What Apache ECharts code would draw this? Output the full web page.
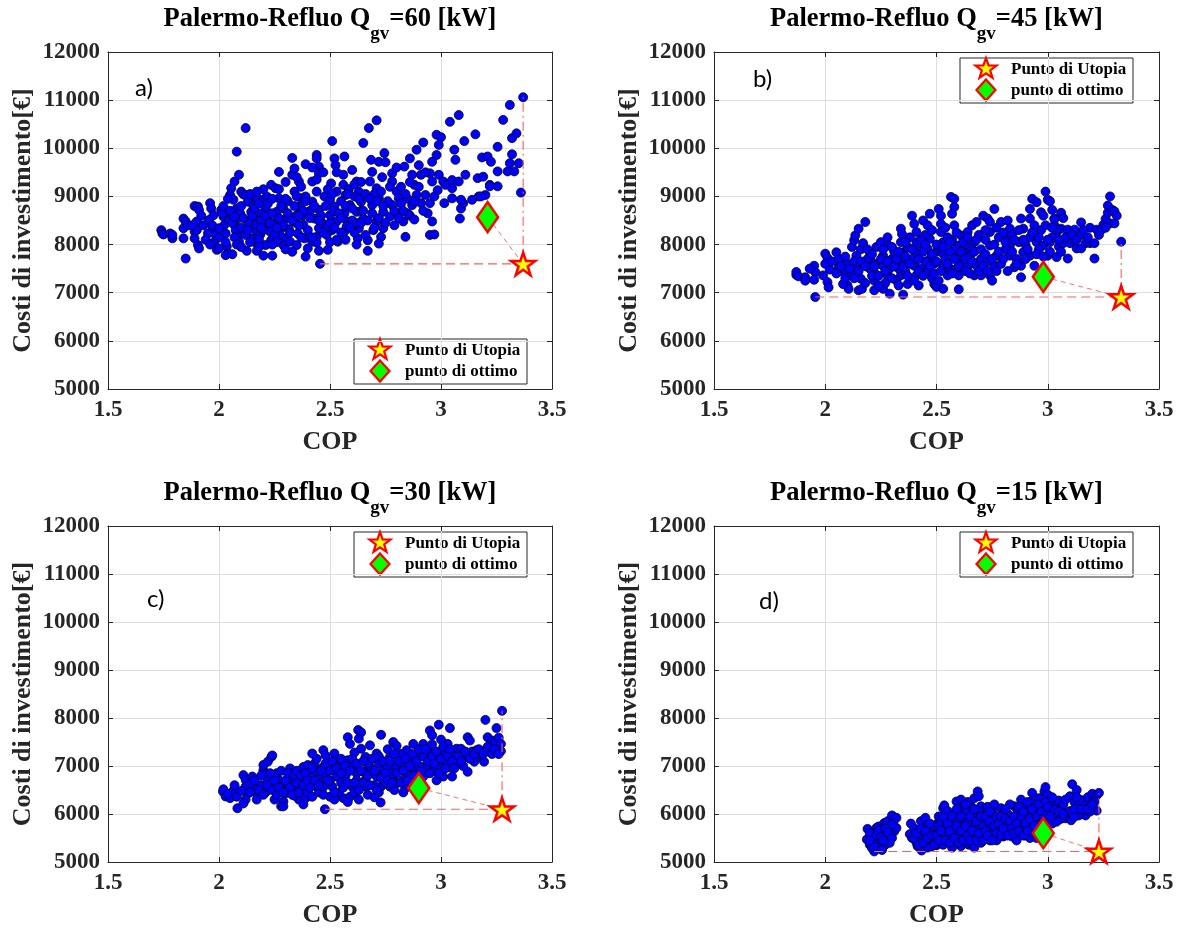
<!DOCTYPE html>
<html><head><meta charset="utf-8">
<script src="https://cdn.jsdelivr.net/npm/echarts@6.0.0/dist/echarts.min.js"></script>
<style>html,body{margin:0;padding:0;background:#fff}#c{width:1178px;height:929px}</style>
</head><body><div id="c"></div>
<script>
// ---------------- DATA ----------------
const qValues = [60, 45, 30, 15];
const panelTags = ['a)', 'b)', 'c)', 'd)'];
const xTicks = [1.5, 2, 2.5, 3, 3.5];
const yTicks = [5000, 6000, 7000, 8000, 9000, 10000, 11000, 12000];
const legendNames = ['Punto di Utopia', 'punto di ottimo'];

// COP, Costi di investimento [€]
const ptsA = [
[1.74,8300],[1.745,8230],[1.75,8210],[1.78,8230],[1.79,8130],[1.79,8200],
[1.84,8540],[1.84,8340],[1.84,8130],[1.85,7710],[1.85,8480],[1.86,8400],
[1.89,8800],[1.905,8790],[1.91,8720],[1.9,8480],[1.89,8270],[1.89,8130],[1.905,7990],[1.91,7920],[1.9,8300],[1.92,8600],
[1.96,8860],[1.965,8750],[1.975,8610],[1.955,8510],[1.965,8270],[1.95,8230],[1.98,8060],[1.99,7890],[1.97,8400],[1.985,8200],
[2.01,8720],[2.02,8580],[2.025,8410],[2.03,8230],[2.035,7960],[2.04,7820],[2.0,8340],[2.0,7920],[2.03,7780],[2.015,8650],[2.045,8500],
[2.055,9170],[2.07,9310],[2.08,9930],[2.09,9450],[2.12,10420],[2.1,9100],[2.11,9040],[2.05,9030],
[2.065,8930],[2.08,8750],[2.085,8540],[2.07,8410],[2.09,8200],[2.09,8060],[2.06,8620],[2.075,8300],[2.095,8650],
[2.12,9030],[2.13,8890],[2.145,8680],[2.16,8540],[2.14,8370],[2.17,8270],[2.15,8130],[2.17,8020],[2.125,7870],[2.17,7870],[2.2,7770],[2.24,7770],[2.13,8480],[2.155,8800],[2.165,8960],
[2.175,8960],[2.2,8930],[2.21,8750],[2.22,8580],[2.205,8410],[2.23,8270],[2.235,8090],[2.21,7990],[2.19,8640],[2.185,8200],[2.215,9000],
[2.235,9240],[2.27,9510],[2.255,9170],[2.27,8960],[2.29,8750],[2.3,8540],[2.28,8340],[2.3,8130],[2.29,7990],[2.32,8060],[2.25,8450],[2.26,8680],[2.275,8200],[2.31,8900],[2.315,8320],
[2.33,9450],[2.34,9580],[2.36,9310],[2.39,9670],[2.34,9100],[2.37,8960],[2.36,8790],[2.35,8610],[2.38,8410],[2.355,8230],[2.385,8130],[2.35,7990],[2.39,7750],[2.33,9800],[2.345,8460],[2.375,8600],[2.39,9000],[2.37,9200],
[2.44,9860],[2.44,9790],[2.45,9620],[2.45,9480],[2.42,9310],[2.44,9100],[2.42,8890],[2.45,8720],[2.43,8540],[2.45,8340],[2.44,8160],[2.42,8060],[2.45,7870],[2.49,7890],[2.455,7600],[2.44,8040],[2.41,8700],[2.465,8450],[2.475,9000],
[2.51,10150],[2.52,9790],[2.525,9650],[2.53,9500],[2.505,9270],[2.53,9100],[2.5,8930],[2.52,8790],[2.5,8610],[2.53,8480],[2.51,8300],[2.535,8060],[2.53,8100],[2.485,8200],[2.49,8380],[2.515,8700],
[2.565,9830],[2.56,9240],[2.57,9030],[2.59,8820],[2.565,8650],[2.58,8480],[2.565,8270],[2.55,8900],[2.575,8380],[2.585,9150],
[2.6,9550],[2.62,9310],[2.63,9100],[2.64,8890],[2.62,8680],[2.65,8540],[2.63,8340],[2.625,8130],[2.61,9000],[2.6,8500],[2.61,8250],[2.64,8700],
[2.65,10110],[2.675,10420],[2.71,10580],[2.67,8090],[2.67,7870],
[2.685,9760],[2.69,9510],[2.72,9720],[2.745,9900],[2.75,9710],[2.68,9310],[2.71,9170],[2.72,8960],[2.69,8820],[2.74,8680],[2.71,8480],[2.74,8340],[2.73,8160],[2.695,8300],[2.7,9050],[2.735,9400],
[2.78,9480],[2.78,9310],[2.8,9100],[2.81,8960],[2.78,8820],[2.805,8650],[2.83,8480],[2.84,8160],[2.77,8580],[2.79,8400],[2.8,9600],[2.82,9200],
[2.835,9620],[2.86,9790],[2.89,9970],[2.92,10120],[2.87,9450],[2.88,9240],[2.9,9650],[2.91,9450],[2.89,9030],[2.91,8860],[2.87,8820],[2.93,9030],[2.95,8860],[2.94,8650],[2.96,8480],[2.95,8200],[2.97,8210],[2.86,8600],[2.88,8520],[2.85,8950],
[2.95,9480],[2.96,9720],[2.98,9860],[2.96,9310],[2.99,9450],[2.985,9130],[3.01,9310],[3.02,9240],[3.015,8860],[3.05,9340],[3.06,9970],[3.065,9760],[3.05,8960],[3.05,9170],[3.08,9310],[3.09,8750],[3.085,8540],[3.1,8860],
[2.98,10280],[3.0,10230],[2.99,10070],[3.04,10550],[3.08,10690],[3.105,10150],[3.155,10290],[3.11,9450],[3.14,8930],[3.165,9380],[3.19,9410],[3.185,9810],[3.21,9830],[3.225,9720],[3.22,9240],[3.17,9000],[3.2,9030],[3.09,8930],[3.18,9000],[3.255,9210],[3.22,9210],
[3.28,10590],[3.255,10030],[3.255,9520],[3.3,9520],[3.31,9690],[3.32,9875],[3.32,10210],[3.34,10310],[3.31,10900],[3.35,9690],[3.33,9520],[3.37,11060],[3.36,9080],
[2.02,8800],[2.04,8950],[2.05,8700],[2.06,8450],[2.07,8150],[2.08,8000],[2.1,8350],[2.11,8550],[2.1,8800],[2.12,8200],[2.14,8050],[2.15,8600],[2.16,8750],[2.14,9050],[2.17,8420],[2.18,8850],[2.19,8500],[2.18,8100],[2.2,8300],[2.21,8600],
[2.22,8850],[2.23,8450],[2.24,8650],[2.25,8200],[2.24,8950],[2.26,8050],[2.27,8550],[2.28,8800],[2.29,8400],[2.3,8950],[2.31,8650],[2.32,8250],[2.33,8500],[2.34,8800],[2.35,9000],[2.36,8400],[2.37,8150],[2.38,8700],[2.39,8900],[2.4,8300],
[2.41,8550],[2.42,8150],[2.43,8800],[2.44,9350],[2.46,8600],[2.47,8250],[2.48,8800],[2.49,9150],[2.5,8450],[2.51,9050],[2.52,8350],[2.54,8650],[2.55,8250],[2.56,9450],[2.57,8800],[2.58,9050],[2.59,8350],[2.6,8750],[2.61,9250],[2.62,8450],
[2.63,8950],[2.64,9300],[2.65,8700],[2.66,8200],[2.66,9050],[2.67,8500],[2.68,8950],[2.69,8650],[2.7,8350],[2.71,8900],[2.72,8550],[2.73,9100],[2.75,8450],[2.76,8900],[2.77,9200],[2.79,8700],[2.81,8550],[2.82,8850],[2.84,9050],[2.85,8650],
[2.86,9300],[2.88,8900],[2.9,9200],[2.92,8700],[2.93,9500],[2.97,9000],[2.42,9600],[2.47,9500],[2.35,9400],[2.3,9300],[2.27,9150],[2.2,9150],[2.17,9100],[2.24,8000],[2.18,7950],[2.3,7900],[2.4,7920],[2.33,7850],[2.5,8050],[2.57,8100],
[2.62,8000],[2.72,8020],[2.1,7950],[2.06,7800],[1.94,8100],[1.93,8400],[1.88,8400],[1.96,8000],[2.0,8150],[2.03,8050],[2.07,8580],[2.13,8300],[2.19,8350],[2.26,8350],[2.36,8600],[2.45,8500],[2.55,8550],[2.64,8450],[2.74,8800],[2.83,8700]
];
const ptsB = [
[1.87,7370],[1.87,7430],[1.88,7340],[1.91,7320],[1.91,7250],[1.955,6910],[1.95,7560],[1.955,7430],[1.95,7270],[1.93,7500],
[2.0,7810],[2.01,7720],[2.0,7600],[1.99,7360],[2.01,7220],[2.015,7110],[2.02,7480],[2.03,7650],
[2.05,7840],[2.07,7650],[2.08,7430],[2.1,7150],[2.105,7080],[2.08,7180],[2.06,7520],[2.09,7300],[2.06,7700],[2.1,7600],
[2.12,7950],[2.13,8090],[2.135,8190],[2.15,8330],[2.18,8470],[2.14,7770],[2.14,7560],[2.16,7290],[2.15,7050],[2.165,7080],[2.12,7400],[2.16,7900],[2.17,8030],[2.13,7650],
[2.2,7840],[2.21,7640],[2.22,7430],[2.22,7250],[2.22,7050],[2.19,7700],[2.2,7500],[2.23,7950],[2.24,7600],[2.21,7350],
[2.25,8050],[2.28,8150],[2.285,7980],[2.26,7770],[2.26,7560],[2.28,7360],[2.26,7080],[2.29,6980],[2.27,7200],[2.3,7700],[2.29,7500],[2.31,7850],
[2.34,8330],[2.345,8220],[2.34,8050],[2.35,7840],[2.34,7640],[2.34,7360],[2.37,7180],[2.35,6960],[2.33,7500],[2.36,7450],[2.37,7950],[2.32,7250],
[2.39,8600],[2.4,8430],[2.41,8260],[2.41,8050],[2.41,7840],[2.4,7560],[2.41,7360],[2.42,7150],[2.39,7700],[2.43,7950],[2.43,7500],[2.38,8150],
[2.44,8500],[2.46,8400],[2.47,8640],[2.47,8120],[2.46,7910],[2.47,7700],[2.46,7430],[2.49,7180],[2.5,7120],[2.53,7080],[2.45,8200],[2.48,7300],[2.49,7600],[2.5,7850],[2.45,7650],
[2.51,8740],[2.52,8600],[2.52,8430],[2.52,8260],[2.53,8050],[2.53,7810],[2.53,7560],[2.55,7360],[2.51,7960],[2.54,7700],[2.55,8150],[2.56,7500],
[2.565,8990],[2.58,8950],[2.58,8780],[2.57,8640],[2.58,8400],[2.61,8190],[2.6,7980],[2.59,7740],[2.59,7500],[2.6,7360],[2.6,7070],[2.57,8100],[2.58,7900],[2.61,7600],[2.62,7850],
[2.64,8260],[2.66,8400],[2.68,8470],[2.67,8050],[2.65,7770],[2.68,7560],[2.67,7360],[2.7,7360],[2.63,8000],[2.66,7900],[2.69,8200],[2.64,7550],[2.7,7700],
[2.71,8600],[2.73,8540],[2.74,8470],[2.76,8740],[2.74,8260],[2.74,7980],[2.77,7770],[2.76,7560],[2.74,7360],[2.79,7600],[2.72,8100],[2.73,7650],[2.78,8150],[2.75,7250],
[2.79,8470],[2.82,8500],[2.83,8330],[2.82,8120],[2.83,7980],[2.83,7770],[2.85,7530],[2.88,7320],[2.88,7560],[2.8,8250],[2.81,7900],[2.86,7700],[2.87,8050],[2.84,8200],
[2.88,8540],[2.89,8330],[2.92,8740],[2.93,8950],[2.95,8880],[2.99,9100],[2.92,8540],[2.97,8670],[2.98,8600],
[2.92,8150],[2.95,8050],[2.89,7840],[2.92,7770],[2.94,7560],[3.0,7770],[2.98,7980],[3.01,8050],[3.03,8540],[3.03,8400],[3.04,8260],[3.06,8330],[2.9,8000],[2.96,7900],[2.97,8300],[2.94,8400],[3.02,8150],
[3.0,8930],[3.01,8900],[3.02,8720],[3.03,8530],[3.04,8310],
[3.04,7740],[3.05,7960],[3.07,8030],[3.06,8660],[3.07,8550],[3.09,8310],[3.09,7710],[3.1,8030],[3.12,8100],[3.13,7920],[3.12,8310],[3.15,8200],[3.15,8460],[3.15,7920],[3.17,8030],[3.19,8030],[3.21,8030],[3.21,7710],
[3.19,8350],[3.22,8310],[3.25,8410],[3.26,8530],[3.27,8660],[3.27,8810],[3.28,8440],[3.3,8440],[3.28,9000],[3.29,8720],[3.3,8690],[3.31,8600],[3.33,8060],
[2.05,7400],[2.07,7550],[2.09,7750],[2.11,7500],[2.13,7300],[2.15,7450],[2.16,7650],[2.18,7550],[2.18,7200],[2.19,7900],[2.21,7800],[2.22,7550],[2.24,7350],[2.24,7150],[2.25,7700],[2.26,7900],[2.27,7450],[2.28,7650],[2.3,7300],[2.3,7950],
[2.31,7550],[2.32,7700],[2.33,7850],[2.33,7150],[2.35,7550],[2.36,7750],[2.36,8050],[2.37,7350],[2.38,7600],[2.39,7900],[2.4,7250],[2.42,7450],[2.42,7700],[2.43,8100],[2.44,7350],[2.44,7850],[2.45,8000],[2.47,7550],[2.48,7800],[2.48,8300],
[2.49,7400],[2.5,7650],[2.5,8000],[2.51,7250],[2.52,7450],[2.53,7950],[2.54,8350],[2.55,7600],[2.56,7850],[2.56,8050],[2.57,7400],[2.58,7700],[2.59,8250],[2.6,7550],[2.61,7850],[2.62,8050],[2.63,7450],[2.63,7700],[2.64,8150],[2.65,7400],
[2.66,7650],[2.67,7850],[2.68,8100],[2.69,7450],[2.7,7900],[2.71,7550],[2.72,7800],[2.72,8300],[2.73,7450],[2.75,7700],[2.76,8000],[2.77,7450],[2.77,8350],[2.78,7850],[2.8,7700],[2.81,8050],[2.82,7450],[2.84,7850],[2.85,8100],[2.86,7600],
[2.87,8300],[2.89,8100],[2.9,7700],[2.91,7900],[2.93,8250],[2.95,7800],[2.96,8150],[2.98,7750],[2.99,8400],[3.0,8100],[3.01,7850],[3.02,8350],[3.05,8100],[3.06,7850],[3.08,8150],[3.11,8200],[3.13,8100],[3.16,8300],[3.18,8150],[3.23,8200],
[3.24,8300],[3.26,8350]
];
const ptsC = [
[2.018,6467],[2.02,6515],[2.03,6365],[2.05,6330],[2.066,6490],[2.08,6360],[2.083,6120],[2.07,6600],[2.04,6420],
[2.11,6810],[2.12,6710],[2.12,6570],[2.13,6430],[2.12,6300],[2.1,6480],[2.11,6220],
[2.15,6780],[2.16,6570],[2.17,6430],[2.17,6300],[2.14,6640],
[2.2,6910],[2.2,7020],[2.22,7090],[2.236,7190],[2.24,7220],[2.21,6840],[2.22,6710],[2.23,6570],[2.19,6600],[2.21,6450],
[2.25,6300],[2.28,6160],[2.29,6260],[2.27,6710],[2.29,6570],[2.3,6430],[2.32,6950],[2.33,6850],[2.33,6710],[2.35,6500],[2.36,6300],[2.26,6850],[2.31,6620],[2.34,6380],[2.29,6160],
[2.36,6880],[2.38,6980],[2.4,7020],[2.41,6780],[2.39,6570],[2.39,6330],[2.37,6650],[2.4,6450],[2.38,6200],
[2.42,7260],[2.47,7330],[2.48,7220],[2.47,6980],[2.45,6780],[2.44,6570],[2.42,6360],[2.477,6100],[2.43,7050],[2.46,6650],[2.44,6900],[2.45,6450],[2.48,6850],[2.47,6560],
[2.52,7260],[2.53,7120],[2.54,6980],[2.53,6780],[2.51,6570],[2.5,6360],[2.52,6300],[2.56,6330],[2.51,6920],[2.55,6650],[2.54,6450],[2.5,6700],
[2.58,7600],[2.59,7460],[2.627,7750],[2.64,7700],[2.63,7570],[2.64,7360],[2.61,7280],
[2.58,7120],[2.6,6980],[2.62,6850],[2.6,6570],[2.59,6360],[2.62,6700],[2.57,6800],[2.61,6450],[2.63,6300],[2.58,6250],
[2.68,7430],[2.66,7190],[2.68,6980],[2.66,6710],[2.66,6570],[2.67,6400],[2.69,6850],[2.65,6880],[2.67,7050],
[2.73,7650],[2.71,7260],[2.72,7050],[2.71,6780],[2.73,6570],[2.728,6240],[2.7,6600],[2.74,6900],[2.72,6450],[2.7,6350],
[2.785,7500],[2.8,7420],[2.77,7190],[2.8,6980],[2.785,6780],[2.77,6570],[2.79,6500],[2.76,7000],[2.78,6850],[2.75,6650],[2.8,6650],[2.76,7350],
[2.845,7330],[2.86,7120],[2.845,6910],[2.83,6710],[2.84,6540],[2.82,7050],[2.83,6450],[2.86,6800],[2.82,7250],
[2.875,7460],[2.92,7460],[2.95,7740],[2.96,7640],[2.99,7860],[3.04,7790],[2.94,7330],[2.98,7120],[2.95,6980],[2.92,6780],[2.9,7200],[2.88,6950],[2.93,7000],[2.97,6900],[2.9,7000],[2.96,7450],[2.98,6700],
[3.01,7330],[3.03,7460],[3.01,7120],[3.04,6980],[3.05,6780],[3.01,6780],[3.0,7550],[3.02,7250],[3.0,6950],[3.03,7050],
[3.07,7360],[3.09,7360],[3.12,7600],[3.13,7530],[3.12,7190],[3.08,7050],[3.12,6880],[3.1,7000],[3.06,7200],[3.14,7300],[3.1,7250],
[3.16,7330],[3.17,7190],[3.15,7090],[3.194,7090],[3.18,7250],
[3.2,7960],[3.21,7600],[3.23,7530],[3.245,7500],[3.22,7290],[3.2,7330],[3.25,7790],[3.26,7590],[3.27,7460],[3.27,7310],[3.23,7250],[3.275,8150],
[2.14,6450],[2.16,6700],[2.18,6500],[2.19,6800],[2.2,6400],[2.22,6600],[2.23,6850],[2.24,6500],[2.25,6700],[2.26,6400],[2.27,6550],[2.28,6900],[2.29,6450],[2.3,6700],[2.31,6850],[2.32,6550],[2.33,6400],[2.34,6800],[2.35,6650],[2.35,6900],
[2.36,6450],[2.37,6800],[2.38,6600],[2.39,6850],[2.4,6700],[2.41,6550],[2.42,6950],[2.43,6700],[2.44,7150],[2.45,6600],[2.46,6900],[2.47,6400],[2.48,7050],[2.49,6700],[2.5,6900],[2.51,7100],[2.52,6450],[2.53,6950],[2.55,6850],[2.55,7150],
[2.56,6550],[2.57,7000],[2.58,6650],[2.59,6900],[2.6,7150],[2.61,6650],[2.62,7050],[2.63,6500],[2.64,6900],[2.65,6650],[2.65,7100],[2.67,6800],[2.68,6600],[2.69,7150],[2.7,6900],[2.71,6500],[2.72,7200],[2.73,6750],[2.74,7100],[2.75,6850],
[2.76,6700],[2.77,7100],[2.78,6650],[2.79,7250],[2.8,6850],[2.81,7100],[2.82,6650],[2.83,6900],[2.84,7150],[2.85,6700],[2.86,7000],[2.87,7250],[2.88,6800],[2.89,7100],[2.9,7350],[2.91,6900],[2.92,7200],[2.93,7350],[2.94,7100],[2.95,6850],
[2.96,7200],[2.97,7050],[2.98,7300],[2.99,6850],[3.0,7150],[3.01,7400],[3.02,6950],[3.03,7200],[3.04,7350],[3.05,7100],[3.06,6950],[3.08,7200],[3.09,7100],[3.11,7300],[3.13,7150],[3.15,7250],[3.17,7350],[3.19,7250],[3.21,7400],[3.24,7350],
[3.26,7250]
];
const ptsD = [
[2.19,5690],[2.187,5470],[2.2,5360],[2.205,5535],[2.22,5220],[2.21,5290],[2.23,5710],[2.24,5740],[2.25,5640],[2.235,5500],[2.25,5430],[2.26,5330],[2.27,5360],[2.24,5380],[2.265,5810],[2.28,5850],[2.29,5710],[2.295,5570],[2.31,5640],[2.32,5710],[2.31,5880],[2.3,5970],[2.28,5500],[2.29,5400],[2.32,5920],[2.27,5550],[2.215,5600],[2.255,5250],[2.3,5780],[2.26,5700],
[2.385,5800],[2.38,5580],[2.39,5500],[2.41,5400],[2.415,5330],[2.433,5240],[2.42,5640],[2.43,5850],[2.45,5920],[2.46,5780],[2.445,5530],[2.47,5430],[2.48,5330],[2.49,5470],[2.5,5640],[2.505,5810],[2.51,5950],[2.4,5700],[2.43,5450],[2.46,5300],[2.47,5620],[2.49,5750],[2.5,5350],
[2.53,6120],[2.535,6180],[2.55,6060],[2.56,5920],[2.54,5710],[2.535,5530],[2.53,5360],[2.55,5430],[2.565,5530],[2.58,5400],[2.58,5640],[2.595,5850],[2.52,5850],[2.54,5600],[2.56,5780],[2.57,5300],[2.52,5500],[2.58,6000],
[2.59,6260],[2.61,6300],[2.625,6190],[2.63,6060],[2.62,5920],[2.61,5740],[2.625,5640],[2.63,5470],[2.645,5360],[2.66,5360],[2.655,5570],[2.67,5740],[2.66,5920],[2.655,6160],[2.67,6330],[2.685,6470],[2.69,6370],[2.7,6160],[2.71,5990],[2.71,5780],[2.7,5570],[2.685,5470],[2.6,5550],[2.61,5330],[2.64,5820],[2.68,5650],[2.69,6050],[2.6,6080],[2.64,6250],[2.67,5300],[2.7,5400],
[2.73,5850],[2.75,6060],[2.76,5920],[2.745,5710],[2.75,5570],[2.775,5710],[2.79,6120],[2.8,5990],[2.805,5850],[2.82,5640],[2.8,5530],[2.835,5780],[2.84,5530],[2.85,6160],[2.865,6060],[2.87,5920],[2.88,6300],[2.89,5780],[2.88,5640],[2.72,5500],[2.74,5450],[2.77,5450],[2.78,5600],[2.73,6150],[2.76,6200],[2.82,6000],[2.83,6200],[2.86,5450],[2.9,5550],
[2.895,6160],[2.91,6060],[2.925,6260],[2.93,6440],[2.94,5880],[2.925,5710],[2.95,6120],[2.96,6330],[2.97,6190],[2.985,6470],[2.99,6560],[3.0,6400],[3.01,6260],[3.01,6090],[3.02,6020],[3.04,6190],[3.05,6280],[3.04,5990],[2.92,5500],[2.94,5600],[2.96,5950],[2.9,5950],[2.97,5750],[3.0,5850],[3.02,5800],[2.95,5500],[2.93,5900],
[3.11,6620],[3.13,6500],[3.1,6370],[3.09,6000],[3.08,5910],[3.105,5870],[3.1,6060],[3.12,6250],[3.14,6180],[3.15,6290],[3.17,6180],[3.18,6350],[3.19,6180],[3.2,6420],[3.21,6320],[3.22,6390],[3.22,6070],[3.21,6250],[3.17,5970],[3.14,5970],[3.12,5940],[3.06,6110],[3.06,5900],[3.04,5840],[3.07,6200],[3.16,6080],[3.19,6050],[3.23,6440],
[2.2,5600],[2.22,5400],[2.23,5550],[2.24,5650],[2.25,5520],[2.26,5450],[2.27,5700],[2.28,5620],[2.3,5500],[2.22,5320],[2.2,5450],
[2.4,5500],[2.41,5600],[2.42,5350],[2.43,5700],[2.44,5400],[2.45,5650],[2.46,5500],[2.47,5800],[2.48,5550],[2.49,5350],[2.5,5550],[2.51,5750],[2.51,5450],[2.52,5650],[2.53,5950],[2.54,5450],[2.55,5800],[2.56,5650],[2.56,5400],[2.57,5950],
[2.58,5500],[2.59,5750],[2.59,6100],[2.6,5400],[2.61,5650],[2.61,5950],[2.62,5450],[2.63,5750],[2.63,6200],[2.64,5550],[2.65,5950],[2.65,5450],[2.66,5650],[2.67,6100],[2.68,5450],[2.68,5850],[2.69,5600],[2.7,5950],[2.71,5450],[2.72,5650],
[2.72,5950],[2.73,5550],[2.74,5850],[2.74,6050],[2.75,5450],[2.76,5750],[2.77,5600],[2.77,5950],[2.78,5800],[2.79,5550],[2.79,5950],[2.8,5700],[2.81,5900],[2.81,6100],[2.82,5550],[2.83,5850],[2.84,5700],[2.85,5950],[2.85,5600],[2.86,5800],
[2.87,6150],[2.87,5650],[2.88,5950],[2.89,5550],[2.89,6050],[2.9,5800],[2.91,5650],[2.91,6250],[2.92,5900],[2.93,6100],[2.94,5750],[2.95,5950],[2.96,6200],[2.96,5650],[2.97,6050],[2.98,5900],[2.99,6250],[3.0,6000],[3.0,6150],[3.01,5950],
[3.02,6350],[3.03,6100],[3.05,6050],[3.07,6000],[3.08,6300],[3.12,6100],[3.15,6100],[3.18,6100],[3.2,6200],[3.13,6350]
];
// punto di ottimo (COP, cost)
const optA = [3.21, 8570];
const optB = [2.98, 7330];
const optC = [2.90, 6540];
const optD = [2.98, 5600];

// ---------------- LAYOUT / STYLE ----------------
const SERIF = '"Liberation Serif","Times New Roman",serif';
const TXT = '#262626';
const panels = [
  {pts: ptsA, opt: optA, grid: {left:108, top:52, width:444, height:337}, tag:[135,88], leg:[354,339]},
  {pts: ptsB, opt: optB, grid: {left:714, top:52, width:445, height:337}, tag:[753,79], leg:[960,58]},
  {pts: ptsC, opt: optC, grid: {left:108, top:526, width:444, height:336}, tag:[147,599], leg:[354,532]},
  {pts: ptsD, opt: optD, grid: {left:714, top:526, width:445, height:336}, tag:[759,601], leg:[960,532]}
];
const starSym = 'path://M50,2L61.2,36.3L97.6,36.3L68.2,57.7L79.4,92.2L50,70.8L20.6,92.2L31.8,57.7L2.4,36.3L38.8,36.3Z';
function starPoly(cx, cy, R) {
  const pts = [];
  for (let k = 0; k < 10; k++) {
    const r = k % 2 === 0 ? R : R * 0.4;
    const a = (-90 + k * 36) * Math.PI / 180;
    pts.push([cx + r * Math.cos(a), cy + r * Math.sin(a)]);
  }
  return pts;
}
const fmt = v => String(v);

const grid = [], xAxis = [], yAxis = [], series = [], graphic = [];
panels.forEach((p, i) => {
  grid.push(Object.assign({containLabel:false}, p.grid));
  const xmin = xTicks[0], xmax = xTicks[xTicks.length-1], xint = xTicks[1]-xTicks[0];
  const ymin = yTicks[0], ymax = yTicks[yTicks.length-1], yint = yTicks[1]-yTicks[0];
  const lineSt = {color: TXT, width: 1};
  xAxis.push({type:'value', gridIndex:i, position:'bottom', min:xmin, max:xmax, interval:xint,
    name:'COP', nameLocation:'middle', nameGap:40,
    nameTextStyle:{fontFamily:SERIF, fontSize:26, fontWeight:'bold', color:TXT},
    axisLine:{show:true, onZero:false, lineStyle:lineSt},
    axisTick:{show:true, inside:true, length:5, lineStyle:lineSt},
    axisLabel:{margin:10, fontFamily:SERIF, fontSize:23, fontWeight:'bold', color:TXT, formatter:fmt},
    splitLine:{show:true, lineStyle:{color:'#dedede', width:1}}});
  xAxis.push({type:'value', gridIndex:i, position:'top', min:xmin, max:xmax, interval:xint,
    axisLine:{show:true, onZero:false, lineStyle:lineSt},
    axisTick:{show:true, inside:true, length:5, lineStyle:lineSt},
    axisLabel:{show:false}, splitLine:{show:false}});
  yAxis.push({type:'value', gridIndex:i, position:'left', min:ymin, max:ymax, interval:yint,
    name:'Costi di investimento[€]', nameLocation:'middle', nameGap:72,
    nameTextStyle:{fontFamily:SERIF, fontSize:26, fontWeight:'bold', color:TXT},
    axisLine:{show:true, onZero:false, lineStyle:lineSt},
    axisTick:{show:true, inside:true, length:5, lineStyle:lineSt},
    axisLabel:{margin:8, fontFamily:SERIF, fontSize:23, fontWeight:'bold', color:TXT, formatter:fmt},
    splitLine:{show:true, lineStyle:{color:'#dedede', width:1}}});
  yAxis.push({type:'value', gridIndex:i, position:'right', min:ymin, max:ymax, interval:yint,
    axisLine:{show:true, onZero:false, lineStyle:lineSt},
    axisTick:{show:true, inside:true, length:5, lineStyle:lineSt},
    axisLabel:{show:false}, splitLine:{show:false}});

  const xi = 2*i, yi = 2*i;
  // utopia point derived from the data
  let maxPt = p.pts[0], minPt = p.pts[0];
  p.pts.forEach(d => { if (d[0] > maxPt[0]) maxPt = d; if (d[1] < minPt[1]) minPt = d; });
  const utopia = [maxPt[0], minPt[1]];

  series.push({type:'scatter', xAxisIndex:xi, yAxisIndex:yi, data:p.pts, symbol:'circle', symbolSize:9,
    itemStyle:{color:'#0000ff', borderColor:'#00001a', borderWidth:0.8, opacity:1}, z:2, silent:true});
  const dashSt = {color:'#ff5c5c', width:1.1};
  series.push({type:'line', xAxisIndex:xi, yAxisIndex:yi, data:[minPt.slice(), utopia], symbol:'none',
    lineStyle:Object.assign({type:[9,5]}, dashSt), z:3, silent:true});
  series.push({type:'line', xAxisIndex:xi, yAxisIndex:yi, data:[utopia, maxPt.slice()], symbol:'none',
    lineStyle:Object.assign({type:[9,4,2,4]}, dashSt), z:3, silent:true});
  series.push({type:'line', xAxisIndex:xi, yAxisIndex:yi, data:[p.opt, utopia], symbol:'none',
    lineStyle:Object.assign({type:[5,4]}, dashSt, {width:0.9}), z:3, silent:true});
  series.push({type:'scatter', xAxisIndex:xi, yAxisIndex:yi, data:[p.opt], symbol:'diamond', symbolSize:[21,30],
    itemStyle:{color:'#00ff00', borderColor:'#ff0000', borderWidth:2.5, opacity:1}, z:4, silent:true});
  series.push({type:'scatter', xAxisIndex:xi, yAxisIndex:yi, data:[utopia], symbol:starSym, symbolSize:24, symbolKeepAspect:true,
    itemStyle:{color:'#ffff00', borderColor:'#ff0000', borderWidth:2.5, opacity:1}, z:5, silent:true});

  // title with subscript
  const cx = p.grid.left + p.grid.width / 2;
  graphic.push({type:'text', x:cx, y:p.grid.top - 46, z:10, silent:true,
    style:{text:'{m|Palermo-Refluo Q}{s|gv}{m|=' + qValues[i] + ' [kW]}', align:'center', verticalAlign:'top',
      rich:{
        m:{fontFamily:SERIF, fontSize:26.5, fontWeight:'bold', fill:'#000', lineHeight:30, verticalAlign:'top'},
        s:{fontFamily:SERIF, fontSize:19, fontWeight:'bold', fill:'#000', lineHeight:20, padding:[19,0,0,0], verticalAlign:'top'}
      }}});
  // panel tag
  graphic.push({type:'text', x:p.tag[0], y:p.tag[1], z:10, silent:true,
    style:{text:panelTags[i], fontFamily:'Lato, "Open Sans", sans-serif', fontSize:24, fill:'#000', align:'left', verticalAlign:'middle'}});
  // legend box
  const lx = p.leg[0], ly = p.leg[1];
  graphic.push({type:'group', x:lx, y:ly, z:20, silent:true, children:[
    {type:'rect', shape:{x:0, y:0, width:173, height:45}, style:{fill:'#fff', stroke:'#262626', lineWidth:1}},
    {type:'polygon', shape:{points:starPoly(26, 11, 11)}, style:{fill:'#ffff00', stroke:'#ff0000', lineWidth:2.2}},
    {type:'polygon', shape:{points:[[26,21.5],[35.5,32],[26,42.5],[16.5,32]]}, style:{fill:'#00ff00', stroke:'#ff0000', lineWidth:2.2}},
    {type:'text', x:51, y:12, style:{text:legendNames[0], fontFamily:SERIF, fontSize:17, fontWeight:'bold', fill:'#000', verticalAlign:'middle'}},
    {type:'text', x:51, y:33, style:{text:legendNames[1], fontFamily:SERIF, fontSize:17, fontWeight:'bold', fill:'#000', verticalAlign:'middle'}}
  ]});
});

const chart = echarts.init(document.getElementById('c'), null, {renderer:'canvas'});
chart.setOption({backgroundColor:'#ffffff', animation:false, grid, xAxis, yAxis, series, graphic});
</script></body></html>
